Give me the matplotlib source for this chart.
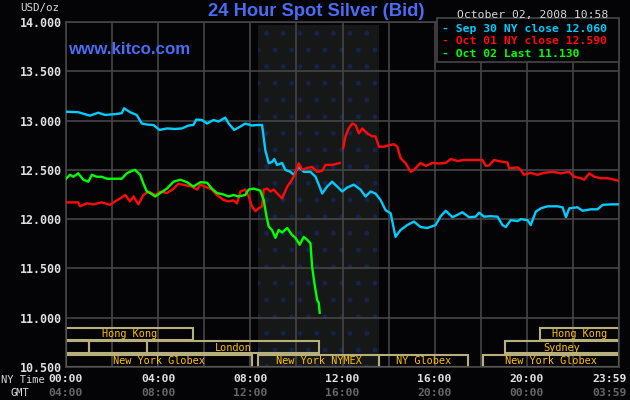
import numpy as np
import matplotlib.pyplot as plt
from matplotlib.patches import Rectangle
import matplotlib.transforms as mtransforms

# hours after midnight (NY time) and bid prices
sep30_hours = [0, 0.53, 1.04, 1.40, 1.70, 2.20, 2.42, 2.52, 2.78, 3.07, 3.29, 3.51, 3.80,
               4.06, 4.38, 4.74, 5.03, 5.32, 5.53, 5.65, 5.90, 6.12, 6.40, 6.62, 6.91,
               7.06, 7.30, 7.57, 7.78, 8.07, 8.29, 8.51, 8.65, 8.80, 8.94, 9.04, 9.16,
               9.38, 9.52, 9.74, 9.88, 10.10, 10.32, 10.61, 10.83, 10.97, 11.12, 11.33,
               11.55, 11.77, 11.99, 12.20, 12.49, 12.78, 13.00, 13.22, 13.43, 13.65,
               13.87, 14.09, 14.30, 14.52, 14.81, 15.10, 15.39, 15.68, 16.04, 16.26,
               16.48, 16.77, 16.96, 17.20, 17.49, 17.78, 17.93, 18.14, 18.43, 18.73,
               18.94, 19.09, 19.30, 19.60, 19.74, 20.03, 20.17, 20.39, 20.61, 20.90,
               21.33, 21.55, 21.70, 21.84, 22.20, 22.42, 22.78, 23.07, 23.29, 23.65, 23.97]
sep30_price = [13.09, 13.085, 13.05, 13.08, 13.057, 13.067, 13.075, 13.125, 13.085, 13.057,
               12.97, 12.96, 12.955, 12.905, 12.92, 12.915, 12.92, 12.95, 12.955, 13.01,
               13.006, 12.97, 13.006, 12.99, 13.03, 12.97, 12.905, 12.94, 12.97, 12.95,
               12.955, 12.955, 12.70, 12.567, 12.58, 12.61, 12.55, 12.57, 12.50, 12.48,
               12.45, 12.53, 12.48, 12.48, 12.43, 12.35, 12.26, 12.33, 12.38, 12.33,
               12.28, 12.32, 12.35, 12.30, 12.23, 12.28, 12.26, 12.195, 12.09, 12.06,
               11.82, 11.89, 11.94, 11.975, 11.92, 11.91, 11.94, 12.03, 12.085, 12.02,
               12.04, 12.07, 12.02, 12.025, 12.066, 12.025, 12.03, 12.025, 11.94, 11.92,
               11.99, 11.98, 12.0, 11.99, 11.94, 12.076, 12.11, 12.13, 12.13, 12.12,
               12.02, 12.11, 12.12, 12.085, 12.1, 12.1, 12.145, 12.15, 12.15]

oct01_hours = [0, 0.53, 0.61, 0.90, 1.19, 1.55, 1.91, 2.13, 2.35, 2.57, 2.78, 2.93, 3.14,
               3.36, 3.58, 3.87, 4.09, 4.38, 4.67, 4.88, 5.17, 5.47, 5.68, 5.83, 6.04,
               6.33, 6.55, 6.84, 7.06, 7.27, 7.42, 7.57, 7.78, 7.93, 8.07, 8.22, 8.36,
               8.51, 8.58, 8.73, 8.87, 9.01, 9.23, 9.38, 9.60, 9.81, 9.96, 10.10, 10.25,
               10.47, 10.68, 10.90, 11.12, 11.26, 11.55, 11.88, 11.95,
               12.03, 12.13, 12.27, 12.42, 12.57, 12.71, 12.86, 13.07, 13.29, 13.43,
               13.58, 13.80, 14.01, 14.23, 14.38, 14.52, 14.74, 14.96, 15.10, 15.39,
               15.61, 15.90, 16.19, 16.48, 16.70, 16.99, 17.27, 18.07, 18.22, 18.36,
               18.58, 18.87, 19.16, 19.23, 19.60, 19.74, 19.88, 20.17, 20.46, 20.75,
               21.12, 21.48, 21.84, 22.06, 22.35, 22.49, 22.71, 22.93, 23.22, 23.51,
               23.80, 23.97]
oct01_price = [12.17, 12.17, 12.13, 12.16, 12.15, 12.17, 12.145, 12.18, 12.21, 12.245,
               12.18, 12.23, 12.15, 12.245, 12.28, 12.245, 12.28, 12.265, 12.31, 12.36,
               12.345, 12.33, 12.30, 12.35, 12.33, 12.30, 12.245, 12.195, 12.18, 12.19,
               12.16, 12.28, 12.30, 12.23, 12.13, 12.08, 12.11, 12.13, 12.30, 12.31,
               12.28, 12.30, 12.245, 12.21, 12.33, 12.40, 12.465, 12.567, 12.50, 12.52,
               12.53, 12.48, 12.49, 12.55, 12.55, 12.57, np.nan,
               12.72, 12.84, 12.92, 12.97, 12.955, 12.87, 12.92, 12.87, 12.84, 12.84,
               12.735, 12.735, 12.75, 12.76, 12.735, 12.62, 12.567, 12.48, 12.50, 12.57,
               12.54, 12.57, 12.565, 12.57, 12.61, 12.59, 12.60, 12.60, 12.54, 12.545,
               12.60, 12.585, 12.575, 12.515, 12.525, 12.50, 12.45, 12.47, 12.45, 12.47,
               12.48, 12.465, 12.48, 12.43, 12.415, 12.40, 12.465, 12.43, 12.415, 12.415,
               12.40, 12.39]

oct02_hours = [0, 0.17, 0.32, 0.53, 0.75, 0.97, 1.12, 1.33, 1.55, 1.77, 2.06, 2.42, 2.64,
               2.86, 3.00, 3.22, 3.36, 3.51, 3.65, 3.87, 4.09, 4.38, 4.67, 4.96, 5.25,
               5.53, 5.83, 6.12, 6.33, 6.55, 6.84, 7.06, 7.27, 7.49, 7.78, 7.93, 8.14,
               8.43, 8.58, 8.70, 8.80, 8.94, 9.09, 9.23, 9.38, 9.60, 9.81, 9.96, 10.14,
               10.32, 10.47, 10.61, 10.68, 10.78, 10.90, 10.97, 11.01]
oct02_price = [12.41, 12.45, 12.43, 12.465, 12.40, 12.38, 12.45, 12.43, 12.43, 12.41,
               12.41, 12.41, 12.465, 12.49, 12.50, 12.45, 12.36, 12.28, 12.265, 12.23,
               12.265, 12.31, 12.38, 12.40, 12.375, 12.33, 12.375, 12.37, 12.31, 12.265,
               12.25, 12.23, 12.245, 12.23, 12.245, 12.30, 12.31, 12.29, 12.195, 12.03,
               11.925, 11.89, 11.81, 11.89, 11.865, 11.91, 11.84, 11.81, 11.74, 11.82,
               11.79, 11.755, 11.52, 11.35, 11.18, 11.15, 11.05]

legend_lines = ['Sep 30 NY close 12.060', 'Oct 01 NY close 12.590', 'Oct 02 Last 11.130']

# trading sessions: (row from top, start hour, end hour, label)
sessions = [(0, 0, 5.52, 'Hong Kong'), (0, 20.57, 24, 'Hong Kong'),
            (1, 0, 1.0, ''), (1, 1.0, 3.52, ''), (1, 3.52, 11.0, 'London'),
            (1, 19.04, 24, 'Sydney'),
            (2, 0, 8.09, 'New York Globex'), (2, 8.35, 13.57, 'New York NYMEX'),
            (2, 13.57, 17.43, 'NY Globex'), (2, 18.09, 24, 'New York Globex')]

ny_labels = ['00:00', '04:00', '08:00', '12:00', '16:00', '20:00', '23:59']
gmt_labels = ['04:00', '08:00', '12:00', '16:00', '20:00', '00:00', '03:59']
label_hours = [0, 4, 8, 12, 16, 20, 23.57]
yticks = [10.5, 11.0, 11.5, 12.0, 12.5, 13.0, 13.5, 14.0]

BG = '#040406'
GRID = '#454545'
BLUE = '#4b6cf2'
CYAN = '#00ccff'
RED = '#ff0a0a'
GREEN = '#00ff00'
MONO = 'DejaVu Sans Mono'

fig = plt.figure(figsize=(6.3, 4.0), dpi=100, facecolor=BG)
ax = fig.add_axes([66 / 630, 1 - 367 / 400, 553 / 630, 345 / 400], facecolor=BG)
ax.set_xlim(0, 24)
ax.set_ylim(10.5, 14.0)

# grid
ax.set_xticks(np.arange(0, 25, 2))
ax.set_yticks(yticks)
ax.grid(True, color=GRID, linewidth=1.2, zorder=1)
ax.tick_params(length=0, colors='#e0e0e0', pad=3)
ax.set_xticklabels([])
ax.set_yticklabels(['%.3f' % v for v in yticks], family=MONO, fontweight='bold',
                   fontsize=8.4, color='#e0e0e0')
for sp in ax.spines.values():
    sp.set_color(GRID)
    sp.set_linewidth(1.2)

# NYMEX session shading
ax.add_patch(Rectangle((8.35, 10.5), 13.57 - 8.35, 3.47, facecolor='#161818',
                       edgecolor='#17234f', hatch='.', linewidth=0, zorder=0.5))

# trading session boxes
row_h = 0.128
for row, start, end, name in sessions:
    y0 = 10.5 + (2 - row) * 0.133
    ax.add_patch(Rectangle((start, y0 + 0.004), end - start, row_h - 0.006, fill=False,
                           edgecolor='#b8b07c', linewidth=1.5, zorder=2))
    if name:
        ax.text((start + end) / 2, y0 + row_h / 2, name, color='#ffc000', fontsize=7.4,
                family=MONO, ha='center', va='center', zorder=3)

# price lines
ax.plot(sep30_hours, sep30_price, color=CYAN, linewidth=1.7, zorder=4)
ax.plot(oct01_hours, oct01_price, color=RED, linewidth=1.7, zorder=4)
ax.plot(oct02_hours, oct02_price, color=GREEN, linewidth=1.7, zorder=5)

# legend box
ax.add_patch(Rectangle((16.09, 13.594), 24 - 16.09, 0.45, facecolor=BG, edgecolor=GRID,
                       linewidth=1.2, zorder=6, clip_on=False))
for i, (txt, col) in enumerate(zip(legend_lines, [CYAN, RED, GREEN])):
    fig.text(442 / 630, 1 - (29 + 12.5 * i) / 400, '- ' + txt, color=col, fontsize=8.2,
             family=MONO, fontweight='bold', va='center', zorder=7)

# x labels (NY time and GMT)
trans = mtransforms.blended_transform_factory(ax.transData, fig.transFigure)
for h, ny, gmt in zip(label_hours, ny_labels, gmt_labels):
    ax.text(h, 1 - 379 / 400, ny, transform=trans, ha='center', va='center',
            color='#e0e0e0', fontsize=8.2, family=MONO, fontweight='bold')
    ax.text(h, 1 - 393 / 400, gmt, transform=trans, ha='center', va='center',
            color='#666666', fontsize=8.2, family=MONO, fontweight='bold')
fig.text(45 / 630, 1 - 380 / 400, 'NY Time', ha='right', va='center', color='#d8d8d8',
         fontsize=7.5, family=MONO)
fig.text(29 / 630, 1 - 393 / 400, 'GMT', ha='right', va='center', color='#d8d8d8',
         fontsize=7.5, family=MONO)

# headings
fig.text(20 / 630, 1 - 8 / 400, 'USD/oz', ha='left', va='center', color='#d8d8d8',
         fontsize=7.8, family=MONO)
fig.text(316 / 630, 1 - 12 / 400, '24 Hour Spot Silver (Bid)', ha='center', va='center',
         color=BLUE, fontsize=13.2, family='Liberation Sans', fontweight='bold')
fig.text(68 / 630, 1 - 50 / 400, 'www.kitco.com', ha='left', va='center', color=BLUE,
         fontsize=12.2, family='Liberation Sans', fontweight='bold')
fig.text(608 / 630, 1 - 15 / 400, 'October 02, 2008 10:58', ha='right', va='center',
         color='#d8d8d8', fontsize=8.2, family=MONO)

fig.savefig('out.png', dpi=100, facecolor=BG)
